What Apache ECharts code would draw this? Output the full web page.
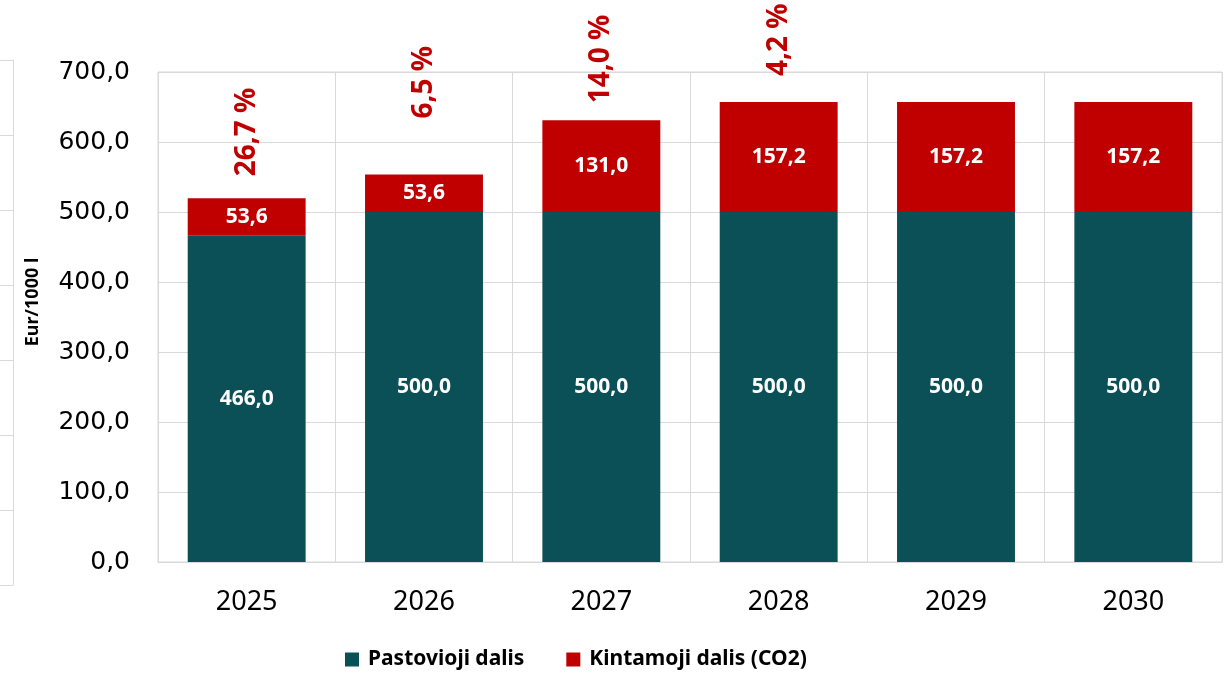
<!DOCTYPE html>
<html>
<head>
<meta charset="utf-8">
<script src="https://cdn.jsdelivr.net/npm/echarts@6/dist/echarts.min.js"></script>
<style>
  html, body { margin: 0; padding: 0; background: #fff; }
  #chart { width: 1232px; height: 680px; }
</style>
</head>
<body>
<div id="chart"></div>
<script>
// data
const years = ['2025', '2026', '2027', '2028', '2029', '2030'];
const fixedPart = [466.0, 500.0, 500.0, 500.0, 500.0, 500.0];
const co2Part = [53.6, 53.6, 131.0, 157.2, 157.2, 157.2];
const growthPct = [26.7, 6.5, 14.0, 4.2, null, null];
const yTicks = [0, 100, 200, 300, 400, 500, 600, 700];

// gap between bar top and the % label (as placed in the original)
const pctGap = [22, 56, 17, 26, 20, 20];

const fmt = v => v.toFixed(1).replace('.', ',');
const GRID = '#d9d9d9';
const FONT = '"Noto Sans", "Open Sans", sans-serif';

const chart = echarts.init(document.getElementById('chart'));

const option = {
  animation: false,
  grid: [
    { left: 158, right: 10, top: 72, bottom: 118, show: true, borderColor: GRID, borderWidth: 1 },
    // cut-off neighbour chart on the far left
    { left: 0, width: 13, top: 60, height: 525, show: false }
  ],
  legend: {
    bottom: 5,
    left: 340,
    icon: 'rect',
    itemWidth: 14,
    itemHeight: 14,
    itemGap: 42,
    textStyle: { fontFamily: FONT, fontWeight: 'bold', fontSize: 21, color: '#000', padding: [0, 0, 0, 4] },
    data: ['Pastovioji dalis', 'Kintamoji dalis (CO2)']
  },
  xAxis: [{
    type: 'category',
    data: years,
    axisLine: { lineStyle: { color: GRID } },
    axisTick: { show: false },
    splitLine: { show: true, lineStyle: { color: GRID, width: 1 } },
    axisLabel: { fontFamily: FONT, fontSize: 27, color: '#000', margin: 27 }
  }, {
    gridIndex: 1, type: 'value', min: 0, max: 1, show: false
  }],
  yAxis: [{
    type: 'value',
    min: yTicks[0],
    max: yTicks[yTicks.length - 1],
    interval: 100,
    name: 'Eur/1000 l',
    nameLocation: 'middle',
    nameGap: 116,
    nameTextStyle: { fontFamily: FONT, fontWeight: 'bold', fontSize: 18, color: '#000', padding: [0, 0, 0, 30] },
    axisLine: { show: false },
    axisTick: { show: false },
    splitLine: { lineStyle: { color: GRID, width: 1 } },
    axisLabel: { fontFamily: '"DejaVu Sans", sans-serif', fontSize: 25, color: '#000', margin: 28, formatter: v => fmt(v) }
  }, {
    gridIndex: 1, type: 'value', min: 0, max: 7, interval: 1, position: 'right',
    axisLine: { show: true, onZero: false, lineStyle: { color: GRID } },
    axisTick: { show: false }, axisLabel: { show: false },
    splitLine: { lineStyle: { color: GRID, width: 1 } }
  }],
  series: [{
    name: 'Pastovioji dalis',
    type: 'bar',
    stack: 'total',
    barWidth: '66.5%',
    itemStyle: { color: '#0b5057' },
    label: {
      show: true, position: 'inside', color: '#fff',
      fontFamily: FONT, fontWeight: 'bold', fontSize: 21,
      formatter: p => fmt(p.value)
    },
    data: fixedPart
  }, {
    name: 'Kintamoji dalis (CO2)',
    type: 'bar',
    stack: 'total',
    barWidth: '66.5%',
    itemStyle: { color: '#c00000' },
    label: {
      show: true, position: 'inside', color: '#fff',
      fontFamily: FONT, fontWeight: 'bold', fontSize: 21,
      formatter: p => fmt(p.value)
    },
    data: co2Part
  }, {
    // invisible overlay carrying the rotated growth labels
    name: 'pct',
    type: 'bar',
    stack: 'pct',
    barWidth: '66.5%',
    barGap: '-100%',
    silent: true,
    itemStyle: { color: 'rgba(0,0,0,0)' },
    data: fixedPart.map((v, i) => ({
      value: v + co2Part[i],
      label: growthPct[i] == null ? { show: false } : {
        show: true,
        position: 'top',
        distance: pctGap[i],
        rotate: 90,
        align: 'left',
        verticalAlign: 'middle',
        color: '#c00000',
        fontFamily: FONT,
        fontWeight: 'bold',
        fontSize: 28,
        formatter: fmt(growthPct[i]) + ' %'
      }
    }))
  }]
};

chart.setOption(option);
</script>
</body>
</html>
